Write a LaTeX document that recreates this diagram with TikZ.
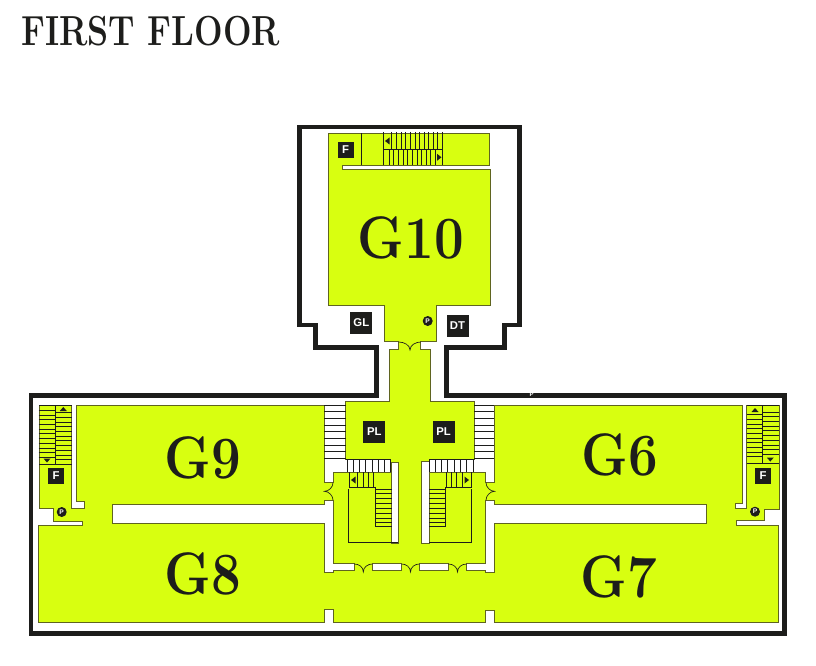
\documentclass[tikz,border=0pt]{standalone}
\usepackage{fontspec}
\usepackage{graphicx}
\newfontfamily\tagfont{Liberation Sans}
\newcommand\galname[1]{\scalebox{0.88}[1]{#1}}
\definecolor{roomlime}{HTML}{D8FF10}
\definecolor{walldark}{HTML}{1D1D1B}
\definecolor{roomedge}{HTML}{5F6420}
\tikzset{
  wall/.style={draw=walldark, line width=3.4pt, miter limit=10},
  room/.style={fill=roomlime, draw=roomedge, line width=0.7pt},
  gap/.style={fill=white, draw=roomedge, line width=0.7pt},
  tread/.style={draw=walldark, line width=0.6pt},
  door/.style={draw=walldark, line width=0.5pt},
  tip/.style={fill=walldark},
  tag/.style={fill=walldark, text=white, font=\tagfont\bfseries\fontsize{8.5}{9}\selectfont, inner sep=0pt, minimum size=12pt},
  ptag/.style={circle, fill=walldark, text=white, font=\tagfont\bfseries\fontsize{5}{5}\selectfont, inner sep=0pt, minimum size=7.5pt},
  gallery/.style={text=walldark, font=\bfseries\fontsize{45}{47}\selectfont, inner sep=0pt}
}
\begin{document}
\begin{tikzpicture}[x=0.75pt,y=-0.75pt]
  \useasboundingbox (0,0) rectangle (816,666);
  \draw [wall] (299.5,127)--(519.5,127)--(519.5,325)--(504.5,325)--(504.5,347.5)--(446.7,347.5)--(446.7,395.5)--(784.5,395.5)--(784.5,633.5)--(31,633.5)--(31,395.5)--(376.7,395.5)--(376.7,347.5)--(315.5,347.5)--(315.5,325)--(299.5,325)--cycle;

  \draw [room] (328.3,133.5)--(489.3,133.5)--(489.3,165.3)--(342.3,165.3)--(342.3,169.3)--(490.7,169.3)--(490.7,305)--(436.7,305)--(436.7,341.7)--(420.7,341.7)--(420.7,349)--(430,349)--(430,401.7)--(474.3,401.7)--(474.3,405)--(742.7,405)--(742.7,503.3)--(735.7,503.3)--(735.7,508.7)--(746.7,508.7)--(746.7,405)--(779,405)--(779,509.3)--(764.3,509.3)--(764.3,520.3)--(736,520.3)--(736,525)--(778.3,525)--(778.3,622.3)--(494.3,622.3)--(494.3,610.7)--(485.7,610.7)--(485.7,622.3)--(333.3,622.3)--(333.3,609)--(324.3,609)--(324.3,622)--(38.7,622)--(38.7,525)--(82.3,525)--(82.3,521.7)--(53.3,521.7)--(53.3,508.3)--(39.3,508.3)--(39.3,405)--(71.7,405)--(71.7,508.3)--(84,508.3)--(84,501.7)--(76.7,501.7)--(76.7,405)--(345.7,405)--(345.7,401.7)--(389.5,401.7)--(389.5,349)--(398.7,349)--(398.7,341.7)--(384.3,341.7)--(384.3,305)--(328.3,305)--cycle;

  \draw [gap] (324.3,405)--(345.7,405)--(345.7,459)--(390.7,459)--(390.7,472.3)--(333.3,472.3)--(333.3,482.7)--(324.3,482.7)--cycle;
  \draw [gap] (494.3,405)--(474.3,405)--(474.3,459)--(429.3,459)--(429.3,472.3)--(485.7,472.3)--(485.7,482.7)--(494.3,482.7)--cycle;
  \draw [gap] (324.3,500)--(333.3,500)--(333.3,563.3)--(354.3,563.3)--(354.3,570.7)--(333.3,570.7)--(333.3,572.3)--(324.3,572.3)--(324.3,523.3)--(112.3,523.3)--(112.3,504.3)--(324.3,504.3)--cycle;
  \draw [gap] (494.3,500)--(485.7,500)--(485.7,563.3)--(466.7,563.3)--(466.7,570.7)--(485.7,570.7)--(485.7,572.7)--(494.3,572.7)--(494.3,523.3)--(706.7,523.3)--(706.7,504.3)--(494.3,504.3)--cycle;
  \draw [gap] (372.3,563) rectangle (401.7,570.7);
  \draw [gap] (419.3,563) rectangle (448.3,570.7);
  \draw [gap] (391,462.3) rectangle (398.3,543.3);
  \draw [gap] (421.7,461.7) rectangle (429.3,543.3);

  \draw [tread] (361.7,133.5)--(361.7,165.3);
  \draw [tread] (383.3,132)--(383.3,165.3) (442.3,132)--(442.3,165.3) (383.3,149.3)--(442.3,149.3);
  \draw [tread] (391.7,132)--(391.7,149.3) (396.7,132)--(396.7,149.3) (401,132)--(401,149.3) (405.7,132)--(405.7,149.3) (410,132)--(410,149.3) (415,132)--(415,149.3) (419.3,132)--(419.3,149.3) (424,132)--(424,149.3) (428.3,132)--(428.3,149.3) (433.3,132)--(433.3,149.3) (437.7,132)--(437.7,149.3);
  \draw [tread] (389,149.3)--(389,165.3) (393.3,149.3)--(393.3,165.3) (398.3,149.3)--(398.3,165.3) (403.3,149.3)--(403.3,165.3) (407.7,149.3)--(407.7,165.3) (412.7,149.3)--(412.7,165.3) (417.3,149.3)--(417.3,165.3) (421.7,149.3)--(421.7,165.3) (426,149.3)--(426,165.3) (430.7,149.3)--(430.7,165.3) (435.7,149.3)--(435.7,165.3);
  \fill [tip] (385,141)--(389.5,137.5)--(389.5,144.5)--cycle;
  \fill [tip] (441.5,157.3)--(437,153.8)--(437,160.8)--cycle;

  \draw [tread] (324.3,405)--(345.7,405) (324.3,411.7)--(345.7,411.7) (324.3,418.3)--(345.7,418.3) (324.3,425)--(345.7,425) (324.3,431.7)--(345.7,431.7) (324.3,438.3)--(345.7,438.3) (324.3,445)--(345.7,445) (324.3,451.7)--(345.7,451.7) (324.3,458.5)--(345.7,458.5);
  \draw [tread] (474.3,405)--(494.3,405) (474.3,411.7)--(494.3,411.7) (474.3,418.3)--(494.3,418.3) (474.3,425)--(494.3,425) (474.3,431.7)--(494.3,431.7) (474.3,438.3)--(494.3,438.3) (474.3,445)--(494.3,445) (474.3,451.7)--(494.3,451.7) (474.3,458.5)--(494.3,458.5);
  \draw [tread] (345.7,459)--(390.7,459)--(390.7,472.3) (347.3,459)--(347.3,472.3) (353.3,459)--(353.3,472.3) (359.3,459)--(359.3,472.3) (365.7,459)--(365.7,472.3) (372.3,459)--(372.3,472.3) (378.3,459)--(378.3,472.3) (384.3,459)--(384.3,472.3);
  \draw [tread] (474.3,459)--(429.3,459)--(429.3,472.3) (473.3,459)--(473.3,472.3) (466.7,459)--(466.7,472.3) (460,459)--(460,472.3) (454,459)--(454,472.3) (447.3,459)--(447.3,472.3) (441.7,459)--(441.7,472.3) (435.3,459)--(435.3,472.3);

  \draw [tread] (349.3,472.3)--(349.3,487.3)--(375,487.3)--(375,526.7) (357.7,472.3)--(357.7,487.3) (363.3,472.3)--(363.3,487.3) (368.3,472.3)--(368.3,487.3) (373.3,472.3)--(373.3,487.3);
  \draw [tread] (348.7,489)--(348.7,542.3)--(398.3,542.3);
  \draw [tread] (375,489)--(391.7,489) (375,493.7)--(391.7,493.7) (375,498.3)--(391.7,498.3) (375,503.3)--(391.7,503.3) (375,508.3)--(391.7,508.3) (375,513.3)--(391.7,513.3) (375,518.3)--(391.7,518.3) (375,522.3)--(391.7,522.3) (375,526.7)--(391.7,526.7);
  \fill [tip] (351,480)--(355.5,476.5)--(355.5,483.5)--cycle;

  \draw [tread] (471.7,472.3)--(471.7,487.3)--(445,487.3)--(445,526.7) (446,472.3)--(446,487.3) (451.3,472.3)--(451.3,487.3) (456.7,472.3)--(456.7,487.3) (462.7,472.3)--(462.7,487.3);
  \draw [tread] (471.7,489)--(471.7,542.3)--(429.3,542.3);
  \draw [tread] (429.3,489)--(445,489) (429.3,493.7)--(445,493.7) (429.3,498.3)--(445,498.3) (429.3,503.3)--(445,503.3) (429.3,508.3)--(445,508.3) (429.3,513.3)--(445,513.3) (429.3,518.3)--(445,518.3) (429.3,522.3)--(445,522.3) (429.3,526.7)--(445,526.7);
  \fill [tip] (469,480)--(464.5,476.5)--(464.5,483.5)--cycle;

  \draw [tread] (39.3,405)--(71.7,405) (55.7,405)--(55.7,464.3) (39.3,464.3)--(71.7,464.3);
  \draw [tread] (38.5,410.7)--(55.7,410.7) (38.5,415)--(55.7,415) (38.5,419.3)--(55.7,419.3) (38.5,424.3)--(55.7,424.3) (38.5,429)--(55.7,429) (38.5,433.3)--(55.7,433.3) (38.5,438.3)--(55.7,438.3) (38.5,443.3)--(55.7,443.3) (38.5,448.3)--(55.7,448.3) (38.5,452.7)--(55.7,452.7) (38.5,457.7)--(55.7,457.7);
  \draw [tread] (55.7,412.7)--(71.7,412.7) (55.7,417.3)--(71.7,417.3) (55.7,422.3)--(71.7,422.3) (55.7,426.7)--(71.7,426.7) (55.7,431.7)--(71.7,431.7) (55.7,436)--(71.7,436) (55.7,440.7)--(71.7,440.7) (55.7,445.7)--(71.7,445.7) (55.7,450)--(71.7,450) (55.7,455)--(71.7,455) (55.7,459.3)--(71.7,459.3);
  \fill [tip] (63.3,407)--(59.8,411)--(66.8,411)--cycle;
  \fill [tip] (47,462.5)--(43.5,458.5)--(50.5,458.5)--cycle;

  \draw [tread] (746.7,405)--(779,405) (762.7,405)--(762.7,463.3) (746.7,463.3)--(779,463.3);
  \draw [tread] (746.7,414)--(762.7,414) (746.7,419)--(762.7,419) (746.7,424)--(762.7,424) (746.7,428.7)--(762.7,428.7) (746.7,433.3)--(762.7,433.3) (746.7,438)--(762.7,438) (746.7,442.7)--(762.7,442.7) (746.7,447.3)--(762.7,447.3) (746.7,452)--(762.7,452) (746.7,456.7)--(762.7,456.7);
  \draw [tread] (762.7,412.7)--(779,412.7) (762.7,416.7)--(779,416.7) (762.7,421.3)--(779,421.3) (762.7,426)--(779,426) (762.7,430.7)--(779,430.7) (762.7,435.7)--(779,435.7) (762.7,440.3)--(779,440.3) (762.7,445)--(779,445) (762.7,449.3)--(779,449.3) (762.7,454)--(779,454);
  \fill [tip] (755,408)--(751.5,412)--(758.5,412)--cycle;
  \fill [tip] (770.3,461.5)--(766.8,457.5)--(773.8,457.5)--cycle;

  \draw [door] (398.7,342) .. controls (404,342) and (410,345) .. (410,350) .. controls (410,345) and (416,342) .. (420.7,342);
  \draw [door] (354.3,564) .. controls (359,564) and (363.3,567) .. (363.3,572) .. controls (363.3,567) and (368,564) .. (372.3,564);
  \draw [door] (401.7,564) .. controls (406,564) and (410.5,567) .. (410.5,572) .. controls (410.5,567) and (415,564) .. (419.3,564);
  \draw [door] (448.3,564) .. controls (453,564) and (457.5,567) .. (457.5,572) .. controls (457.5,567) and (462,564) .. (466.7,564);
  \draw [door] (333,482.7) .. controls (333,487) and (329,491.3) .. (324.5,491.3) .. controls (329,491.3) and (333,496) .. (333,500);
  \draw [door] (486,482.7) .. controls (486,487) and (490,491.3) .. (494.5,491.3) .. controls (490,491.3) and (486,496) .. (486,500);

  \node [tag, minimum size=12pt] (fTop) at (345.7,149.7) {F};
  \node [tag, minimum size=16.5pt] (tagGL) at (361.3,323) {GL};
  \node [tag, minimum size=16.5pt] (tagDT) at (457.5,325.5) {DT};
  \node [tag, minimum size=16.5pt] (plLeft) at (374.3,431.8) {PL};
  \node [tag, minimum size=16.5pt] (plRight) at (443.5,431.8) {PL};
  \node [tag] (fLeft) at (56.2,475.7) {F};
  \node [tag] (fRight) at (763,475.7) {F};
  \node [ptag] (pTop) at (427.7,321) {P};
  \node [ptag] (pLeft) at (61.7,512) {P};
  \node [ptag] (pRight) at (755,511.7) {P};
  \node [text=white, inner sep=0pt, font=\tagfont\bfseries\fontsize{4.5}{5}\selectfont] (pWall) at (531.5,394.5) {P};

  \node [gallery] (galTen) at (411,238) {\galname{G10}};
  \node [gallery] (galNine) at (203,458) {\galname{G9}};
  \node [gallery] (galEight) at (203,574) {\galname{G8}};
  \node [gallery] (galSeven) at (619,577) {\galname{G7}};
  \node [gallery] (galSix) at (620,455) {\galname{G6}};

  \node [text=walldark, anchor=west, inner sep=0pt, font=\bfseries\fontsize{31.5}{33}\selectfont] (title) at (21,31.5) {\scalebox{0.805}[1]{FIRST FLOOR}};
\end{tikzpicture}
\end{document}
